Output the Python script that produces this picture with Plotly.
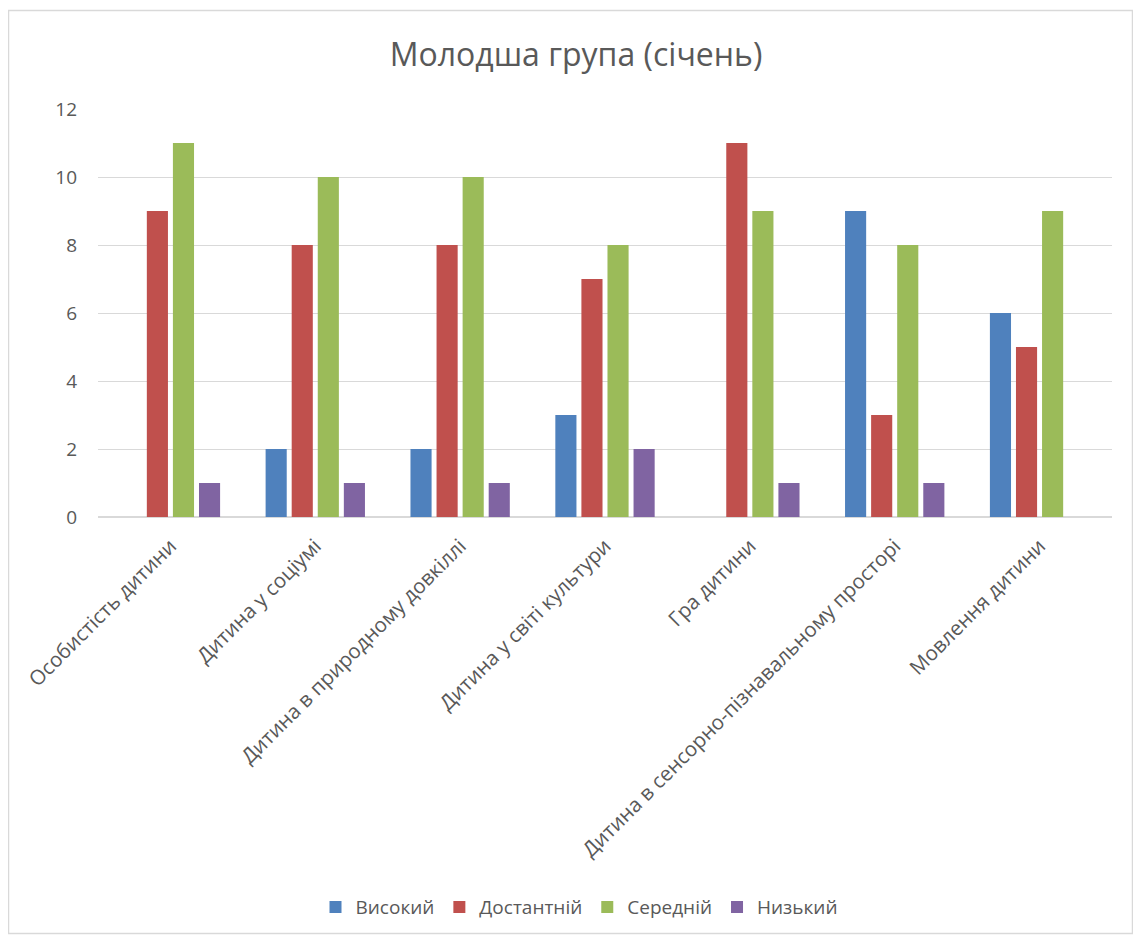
import plotly.graph_objects as go

categories = [
    "Особистість дитини",
    "Дитина у соціумі",
    "Дитина в природному довкіллі",
    "Дитина у світі культури",
    "Гра дитини",
    "Дитина в сенсорно-пізнавальному просторі",
    "Мовлення дитини",
]
vysokyi = [0, 2, 2, 3, 0, 9, 6]
dostatniy = [9, 8, 8, 7, 11, 3, 5]
seredniy = [11, 10, 10, 8, 9, 8, 9]
nyzkyi = [1, 1, 1, 2, 1, 1, 0]

series_names = ["Високий", "Достантній", "Середній", "Низький"]
series_values = [vysokyi, dostatniy, seredniy, nyzkyi]
colors = ["#4F81BD", "#C0504D", "#9BBB59", "#8064A2"]

OFF = 8  # default body margin of the page
W, H = 1141 - 2 * OFF, 946 - 2 * OFF
# plot area in screen pixels: x 98..1112, y 109..519
L = 98 - OFF
R = W - (1112 - OFF)
T = 109 - OFF
B = H - (519 - OFF)
pw, ph = W - L - R, H - T - B

fig = go.Figure()
for name, vals, c in zip(series_names, series_values, colors):
    fig.add_trace(go.Bar(x=categories, y=vals, name=name, marker_color=c,
                         marker_line_width=0))

def px_x(sx):
    return (sx - OFF - L) / pw

def px_y(sy):
    return (H - B - (sy - OFF)) / ph

fig.update_layout(
    width=W, height=H,
    margin=dict(l=L, r=R, t=T, b=B),
    paper_bgcolor="white", plot_bgcolor="white",
    font=dict(family="Open Sans", color="#595959", size=18),
    title=dict(text="Молодша група (січень)", x=px_x(576), xanchor="center",
               xref="paper",
               y=1 - (55 - OFF) / H, yanchor="middle",
               font=dict(size=32, color="#595959")),
    barmode="group", bargap=0.28, bargroupgap=0.19,
    xaxis=dict(tickangle=-45, showgrid=False, showline=False, ticks="",
               tickfont=dict(size=20.5, color="#595959"),
               ticklabelstandoff=12),
    yaxis=dict(range=[0, 12], dtick=2, showgrid=True, gridcolor="#D9D9D9",
               gridwidth=1, zeroline=True, zerolinecolor="#D9D9D9",
               ticks="", tickfont=dict(size=19, color="#595959"),
               ticklabelstandoff=20),
    legend=dict(orientation="h", x=px_x(579), xanchor="center",
                y=px_y(911), yanchor="middle",
                font=dict(size=19, color="#595959"),
                itemwidth=30, traceorder="normal"),
    shapes=[dict(type="rect", xref="paper", yref="paper",
                 x0=px_x(OFF + 0.5), x1=px_x(OFF + W - 0.5),
                 y0=px_y(OFF + H - 0.5), y1=px_y(10),
                 line=dict(color="#D9D9D9", width=1.5), layer="below")],
)

fig.write_html("out.html")
